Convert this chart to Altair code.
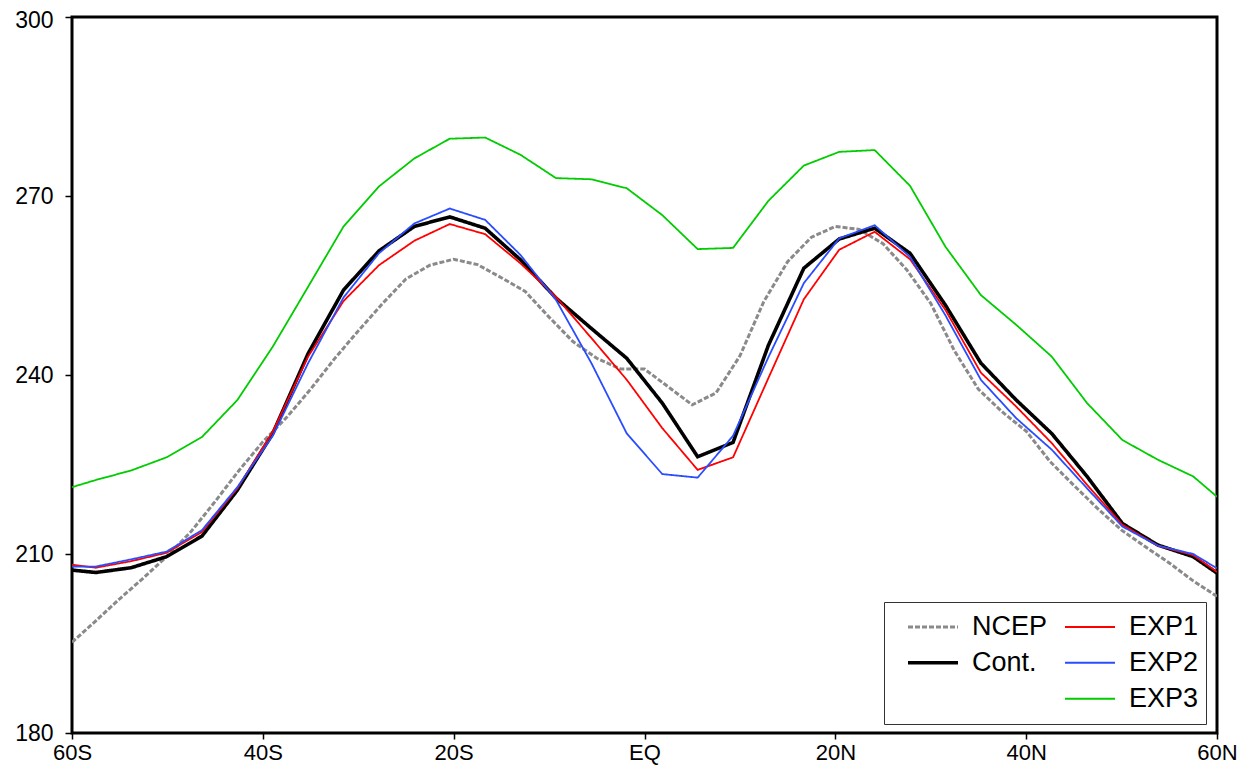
import altair as alt
import pandas as pd

# Model latitudes (Gaussian grid, clipped at the frame edges)
lat_model = [-60, -57.51, -53.80, -50.09, -46.38, -42.67, -38.96, -35.25, -31.54, -27.83,
             -24.12, -20.41, -16.70, -12.99, -9.28, -5.57, -1.86, 1.86, 5.57, 9.28,
             12.99, 16.70, 20.41, 24.12, 27.83, 31.54, 35.25, 38.96, 42.67, 46.38,
             50.09, 53.80, 57.51, 60]

cont = [207.3, 206.9, 207.7, 209.55, 213.0, 220.7, 230.2, 243.6, 254.25, 260.8,
        264.9, 266.5, 264.6, 259.3, 252.9, 247.8, 242.8, 235.3, 226.3, 228.7,
        245.0, 257.9, 262.8, 264.6, 260.4, 251.7, 242.0, 235.8, 230.2, 223.0,
        215.1, 211.5, 209.55, 206.8]

exp1 = [208.2, 207.7, 208.8, 210.2, 213.7, 221.0, 230.5, 243.1, 252.4, 258.4,
        262.5, 265.3, 263.6, 258.7, 253.1, 246.2, 239.2, 231.1, 224.1, 226.2,
        239.5, 252.7, 261.0, 264.0, 259.4, 250.9, 240.4, 234.7, 228.6, 221.6,
        214.9, 211.4, 209.8, 207.0]

exp2 = [207.9, 207.9, 209.1, 210.4, 214.0, 221.2, 229.8, 242.0, 253.0, 260.4,
        265.4, 267.9, 266.0, 260.1, 252.6, 242.0, 230.2, 223.4, 222.8, 229.8,
        243.0, 255.4, 262.9, 265.1, 259.8, 250.0, 239.2, 232.75, 227.5, 221.0,
        214.6, 211.4, 210.0, 207.6]

exp3 = [221.2, 222.4, 224.0, 226.2, 229.6, 235.8, 244.75, 254.8, 264.9, 271.6,
        276.3, 279.6, 279.8, 276.9, 273.0, 272.8, 271.3, 266.8, 261.1, 261.3,
        269.2, 275.1, 277.4, 277.7, 271.7, 261.5, 253.4, 248.4, 243.1, 235.3,
        229.1, 225.8, 223.0, 219.6]

# NCEP reanalysis on a 2.5 degree grid
lat_ncep = [-60, -57.5, -55, -52.5, -50, -47.5, -45, -42.5, -40, -37.5, -35, -32.5,
            -30, -27.5, -25, -22.5, -20, -17.5, -15, -12.5, -10, -7.5, -5, -2.5,
            0, 2.5, 5, 7.5, 10, 12.5, 15, 17.5, 20, 22.5, 25, 27.5, 30, 32.5,
            35, 37.5, 40, 42.5, 45, 47.5, 50, 52.5, 55, 57.5, 60]
ncep = [195.2, 198.8, 202.5, 206.0, 209.7, 213.8, 218.8, 224.0, 228.8, 232.9, 237.6, 242.7,
        247.4, 251.9, 256.1, 258.4, 259.4, 258.5, 256.3, 254.0, 249.7, 245.6, 242.8, 241.0,
        241.0, 238.0, 235.0, 237.0, 243.2, 252.3, 259.0, 263.1, 264.9, 264.4, 262.0, 257.6,
        252.0, 244.0, 237.6, 233.8, 230.6, 225.5, 221.5, 217.6, 214.0, 211.2, 208.5, 205.5,
        202.9]

x_ticks = [-60, -40, -20, 0, 20, 40, 60]
y_ticks = [180, 210, 240, 270, 300]

# legend fills column by column: NCEP, Cont., (blank) | EXP1, EXP2, EXP3
legend_order = ["NCEP", "Cont.", " ", "EXP1", "EXP2", "EXP3"]
legend_colors = ["#8a8a8a", "#000000", "#ffffff", "#ff0000", "#2a4cff", "#00cc00"]
legend_dashes = [[5, 2], [1, 0], [1, 0], [1, 0], [1, 0], [1, 0]]
legend_widths = [3, 3.6, 0.1, 1.8, 1.8, 1.8]

rows = []
for la, v in zip(lat_ncep, ncep):
    rows.append({"lat": la, "value": v, "series": "NCEP"})
for name, vals in [("Cont.", cont), ("EXP1", exp1), ("EXP2", exp2), ("EXP3", exp3)]:
    for la, v in zip(lat_model, vals):
        rows.append({"lat": la, "value": v, "series": name})
df = pd.DataFrame(rows)

FONT = "Liberation Sans"

leg = alt.Legend(
    title=None, orient="none", legendX=812, legendY=585, columns=2,
    padding=7, strokeColor="#333333", fillColor="white",
    symbolType="stroke", symbolSize=2500, symbolOffset=15,
    labelOffset=12, labelFont=FONT, labelFontSize=27, labelColor="black",
    clipHeight=35.5, rowPadding=0, columnPadding=0, labelLimit=0,
)

x_enc = alt.X(
    "lat:Q",
    scale=alt.Scale(domain=[-60, 60], nice=False, zero=False),
    axis=alt.Axis(
        values=x_ticks, title=None, grid=False, domain=False,
        labelExpr="datum.value < 0 ? (-datum.value) + 'S' : (datum.value > 0 ? datum.value + 'N' : 'EQ')",
        tickSize=6, tickWidth=1.5, tickColor="black", labelPadding=3,
        labelFont=FONT, labelFontSize=22, labelColor="black", labelFlush=False,
        labelOverlap=False,
    ),
)
y_enc = alt.Y(
    "value:Q",
    scale=alt.Scale(domain=[180, 300], nice=False, zero=False),
    axis=alt.Axis(
        values=y_ticks, title=None, grid=False, domain=False,
        tickSize=7, tickWidth=1.5, tickColor="black", labelPadding=12,
        labelFont=FONT, labelFontSize=23, labelColor="black", labelFlush=False,
        labelOverlap=False,
        labelOffset={"condition": {"test": "datum.value == 300", "value": 3}, "value": 0},
    ),
)
color_enc = alt.Color("series:N", scale=alt.Scale(domain=legend_order, range=legend_colors), legend=leg)
dash_enc = alt.StrokeDash("series:N", scale=alt.Scale(domain=legend_order, range=legend_dashes), legend=leg)
width_enc = alt.StrokeWidth("series:N", scale=alt.Scale(type="ordinal", domain=legend_order, range=legend_widths), legend=leg)

base = alt.Chart(df)
layers = []
for name in ["NCEP", "Cont.", "EXP1", "EXP2", "EXP3"]:
    layers.append(
        base.transform_filter(alt.datum.series == name)
        .mark_line(clip=True, strokeJoin="miter", strokeCap="butt")
        .encode(x=x_enc, y=y_enc, color=color_enc, strokeDash=dash_enc, strokeWidth=width_enc)
    )

chart = alt.layer(*layers).properties(
    width=1145, height=716,
    autosize=alt.AutoSizeParams(type="none"),
    padding={"left": 64, "top": 9, "right": 21, "bottom": 36},
    background="white",
).configure_view(stroke="black", strokeWidth=3)

chart.save("out.html", embed_options={"renderer": "svg", "actions": False})
